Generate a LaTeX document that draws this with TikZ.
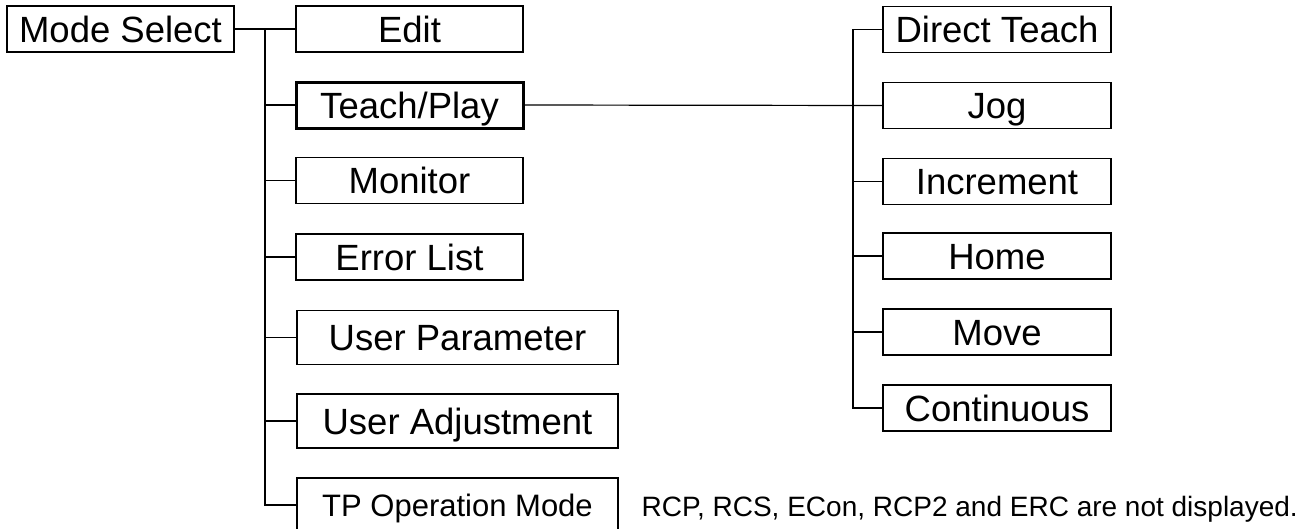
\documentclass[tikz,border=0pt]{standalone}
\usepackage{fontspec}
\setmainfont{Liberation Sans}
\usepackage{tikz}

\begin{document}
\begin{tikzpicture}[x=1pt, y=-1pt, line width=1.2pt,
  box/.style={draw, line width=1.2pt, inner sep=0pt, minimum height=46pt,
    text height=26pt, text depth=0pt, font=\fontsize{36.5}{40}\selectfont},
  modebox/.style={box, minimum width=227pt},
  widebox/.style={box, minimum width=321pt, minimum height=54pt},
  teachbox/.style={box, minimum width=228pt},
  note/.style={inner sep=0pt, text height=20pt, text depth=0pt, font=\fontsize{28}{32}\selectfont}]
\useasboundingbox (0,0) rectangle (1310,528);
% Top level
\node[modebox] (modesel) at (120.5,29) {Mode Select};
% First level (left column)
\node[modebox] (edit) at (409.5,29) {Edit};
\node[modebox, line width=3pt] (teach) at (409.5,105) {Teach/Play};
\node[modebox] (monitor) at (409.5,180.5) {Monitor};
\node[modebox] (errlist) at (409.5,257) {Error List};
\node[widebox] (userpar) at (457.5,337.5) {User Parameter};
\node[widebox] (useradj) at (457.5,421) {User Adjustment};
\node[widebox, font=\fontsize{31}{34}\selectfont, text height=22pt] (tpmode) at (457.5,505) {TP Operation Mode};
\node[note, anchor=west] (remark) at (641,506) {RCP, RCS, ECon, RCP2 and ERC are not displayed.};
% Second level (Teach/Play)
\node[teachbox] (direct) at (997,29.5) {Direct Teach};
\node[teachbox] (jog) at (997,105.5) {Jog};
\node[teachbox] (incr) at (997,181.5) {Increment};
\node[teachbox] (home) at (997,256) {Home};
\node[teachbox] (move) at (997,332) {Move};
\node[teachbox] (cont) at (997,408) {Continuous};
% Tree lines, left
\coordinate (trunk) at (265,29);
\draw (modesel.east) -- (edit.west);
\draw (trunk) |- (tpmode.west);
\draw (trunk |- teach.west) -- (teach.west);
\draw (trunk |- monitor.west) -- (monitor.west);
\draw (trunk |- errlist.west) -- (errlist.west);
\draw (trunk |- userpar.west) -- (userpar.west);
\draw (trunk |- useradj.west) -- (useradj.west);
% Tree lines, right
\coordinate (rtrunk) at (853,29.5);
\draw (teach.east) -- (jog.west);
\draw (direct.west) -- (rtrunk) |- (cont.west);
\draw (rtrunk |- incr.west) -- (incr.west);
\draw (rtrunk |- home.west) -- (home.west);
\draw (rtrunk |- move.west) -- (move.west);
\end{tikzpicture}
\end{document}
